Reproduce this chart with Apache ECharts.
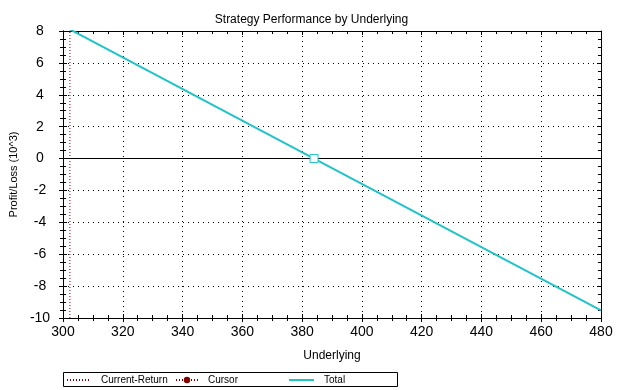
<!DOCTYPE html>
<html>
<head>
<meta charset="utf-8">
<script src="https://cdn.jsdelivr.net/npm/echarts@6/dist/echarts.min.js"></script>
<style>html,body{margin:0;padding:0;background:#fff}#c{width:623px;height:390px}</style>
</head>
<body>
<div id="c"></div>
<script>
// ---- data ----
const underlying = [300, 384, 480];
const totalPL = [8.33, 0, -9.52];
const currentReturnX = [302.3, 302.3];
const currentReturnY = [-10, 8];
const cursorPoint = [384, 0];
const xTicks = {min: 300, max: 480, interval: 20};
const yTicks = {min: -10, max: 8, interval: 2};

const FONT = "'Liberation Sans',Arial,sans-serif";
const chart = echarts.init(document.getElementById('c'));

function xAx(pos, inside, labels, split) {
  return {
    type: 'value', position: pos, min: xTicks.min, max: xTicks.max, interval: xTicks.interval,
    axisLine: {show: true, onZero: false, lineStyle: {color: '#000', width: 1}},
    axisTick: {show: true, inside: inside, length: 4, lineStyle: {color: '#000'}},
    minorTick: {show: true, splitNumber: 4, length: 3, lineStyle: {color: '#000'}},
    axisLabel: {show: labels, color: '#000', fontFamily: FONT, fontSize: 14, margin: 7},
    splitLine: {show: split, lineStyle: {color: '#000', type: [1, 4], width: 1}},
    name: labels ? 'Underlying' : '', nameLocation: 'middle', nameGap: 32,
    nameTextStyle: {color: '#000', fontFamily: FONT, fontSize: 12}
  };
}
function yAx(pos, inside, labels, split) {
  return {
    type: 'value', position: pos, min: yTicks.min, max: yTicks.max, interval: yTicks.interval,
    axisLine: {show: true, onZero: false, lineStyle: {color: '#000', width: 1}},
    axisTick: {show: true, inside: inside, length: 4, lineStyle: {color: '#000'}},
    minorTick: {show: true, splitNumber: 4, length: 3, lineStyle: {color: '#000'}},
    axisLabel: {show: labels, color: '#000', fontFamily: FONT, fontSize: 14, margin: 23, align: 'center'},
    splitLine: {show: split, lineStyle: {color: '#000', type: [1, 4], width: 1}},
    name: labels ? 'Profit/Loss (10^3)' : '', nameLocation: 'middle', nameGap: 43,
    nameTextStyle: {color: '#000', fontFamily: FONT, fontSize: 11}
  };
}

const totalColor = '#1FC3C8';
const legendText = {color: '#000', fontFamily: FONT, fontSize: 10, padding: [0, 0, 0, 5]};
const hideSym = {opacity: 0};

chart.setOption({
  animation: false,
  backgroundColor: '#fff',
  title: {text: 'Strategy Performance by Underlying', left: 'center', top: 9,
    textStyle: {color: '#000', fontFamily: FONT, fontSize: 12, fontWeight: 'normal'}},
  grid: {left: 63, right: 22, top: 31, bottom: 72},
  xAxis: [xAx('bottom', false, true, true), xAx('bottom', true, false, false), xAx('top', true, false, false)],
  yAxis: [yAx('left', false, true, true), yAx('left', true, false, false), yAx('right', true, false, false)],
  legend: [
    {data: [{name: 'Current-Return', itemStyle: hideSym}], left: 66, top: 375, padding: 0, itemWidth: 24, itemHeight: 8, textStyle: legendText, selectedMode: false},
    {data: ['Cursor'], left: 175, top: 375, padding: 0, itemWidth: 22, itemHeight: 8, textStyle: legendText, selectedMode: false},
    {data: [{name: 'Total', itemStyle: hideSym}], left: 288, top: 375, padding: 0, itemWidth: 25, itemHeight: 8, textStyle: legendText, selectedMode: false}
  ],
  graphic: [{type: 'rect', shape: {x: 63.5, y: 372.5, width: 334, height: 14},
    style: {fill: 'none', stroke: '#000', lineWidth: 1}, silent: true, z: 100}],
  series: [
    {
      name: 'Current-Return', type: 'line', symbol: 'none', color: '#800000',
      lineStyle: {color: '#800000', width: 1, type: [1, 2]},
      data: currentReturnX.map((x, i) => [x, currentReturnY[i]]),
      markLine: {silent: true, symbol: 'none', label: {show: false},
        lineStyle: {color: '#000', width: 1, type: 'solid'}, data: [{yAxis: 0}]}
    },
    {
      name: 'Total', type: 'line', symbol: 'none', color: totalColor, clip: true,
      lineStyle: {color: totalColor, width: 2},
      data: underlying.map((x, i) => [x, totalPL[i]])
    },
    {
      name: 'Cursor', type: 'line', symbol: 'circle', symbolSize: 7, color: '#800000',
      itemStyle: {color: '#800000'}, lineStyle: {color: '#800000', width: 1, type: [1, 2]},
      data: [{value: cursorPoint, symbol: 'rect', symbolSize: 8,
        itemStyle: {color: '#fff', borderColor: totalColor, borderWidth: 1}}],
      z: 5
    }
  ]
});
</script>
</body>
</html>
